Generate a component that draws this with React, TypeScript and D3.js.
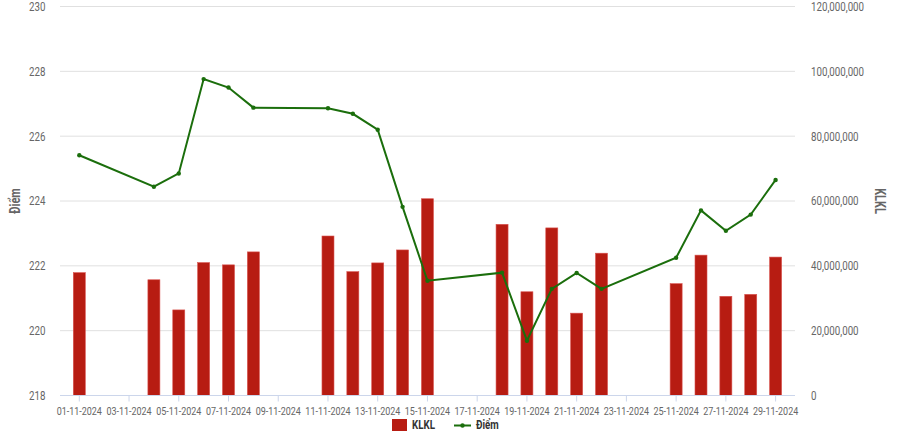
import React from "react";
import * as d3 from "d3";

const dates: string[] = [
  "2024-11-01", "2024-11-04", "2024-11-05", "2024-11-06", "2024-11-07", "2024-11-08",
  "2024-11-11", "2024-11-12", "2024-11-13", "2024-11-14", "2024-11-15",
  "2024-11-18", "2024-11-19", "2024-11-20", "2024-11-21", "2024-11-22",
  "2024-11-25", "2024-11-26", "2024-11-27", "2024-11-28", "2024-11-29",
];
const klkl: number[] = [
  37.9e6, 35.7e6, 26.4e6, 41.0e6, 40.3e6, 44.3e6,
  49.2e6, 38.2e6, 40.9e6, 44.9e6, 60.7e6,
  52.8e6, 32.0e6, 51.7e6, 25.4e6, 43.9e6,
  34.5e6, 43.3e6, 30.6e6, 31.2e6, 42.7e6,
];
const diem: number[] = [
  225.41, 224.44, 224.85, 227.76, 227.5, 226.88,
  226.86, 226.69, 226.2, 223.82, 221.54,
  221.79, 219.69, 221.29, 221.78, 221.29,
  222.25, 223.71, 223.08, 223.58, 224.65,
];
const leftTicks: number[] = [218, 220, 222, 224, 226, 228, 230];
const rightTicks: number[] = [0, 20e6, 40e6, 60e6, 80e6, 100e6, 120e6];

const W = 900;
const H = 438;
const plotL = 60;
const plotR = 795;
const plotT = 6.5;
const plotB = 395.5;
const FONT = "Roboto, 'DejaVu Sans', sans-serif";
const TEXT = "#666666";
const SX = 0.78;

type NTextProps = {
  x: number;
  y: number;
  anchor?: "start" | "middle" | "end";
  size: number;
  weight?: string;
  fill?: string;
  rotate?: number;
  children: React.ReactNode;
};

function NText({ x, y, anchor = "start", size, weight = "normal", fill = TEXT, rotate = 0, children }: NTextProps) {
  return (
    <text
      transform={`translate(${x},${y}) rotate(${rotate}) scale(${SX},1)`}
      textAnchor={anchor}
      dy="0.35em"
      fontSize={size}
      fontWeight={weight}
      fill={fill}
    >
      {children}
    </text>
  );
}

export default function App() {
  const parse = d3.utcParse("%Y-%m-%d");
  const ds = dates.map((d) => parse(d) as Date);
  const day = 86400000;
  const x = d3
    .scaleUtc()
    .domain([new Date(ds[0].getTime() - 0.776 * day), new Date(ds[ds.length - 1].getTime() + 0.78 * day)])
    .range([plotL, plotR]);
  const yL = d3.scaleLinear().domain([218, 230]).range([plotB, plotT]);
  const yR = d3.scaleLinear().domain([0, 120e6]).range([plotB, plotT]);
  const xTicks = d3
    .utcDay.range(ds[0], new Date(ds[ds.length - 1].getTime() + 1))
    .filter((d) => (d.getUTCDate() - 1) % 2 === 0);
  const fmtX = d3.utcFormat("%d-%m-%Y");
  const fmtR = d3.format(",");
  const barW = 12;
  const line = d3
    .line<number>()
    .x((_, i) => x(ds[i]))
    .y((v) => yL(v));

  return (
    <svg width={W} height={H} style={{ position: "absolute", left: 0, top: 0, background: "#fff" }} fontFamily={FONT}>
      {leftTicks.map((t) => (
        <line key={"g" + t} x1={plotL} x2={plotR} y1={yL(t)} y2={yL(t)} stroke="#e0e0e0" strokeWidth={1} />
      ))}
      {leftTicks.map((t) => (
        <NText key={"l" + t} x={45.5} y={yL(t)} anchor="end" size={12.5}>
          {t}
        </NText>
      ))}
      {rightTicks.map((t) => (
        <NText key={"r" + t} x={811} y={yR(t)} anchor="start" size={12.5}>
          {fmtR(t)}
        </NText>
      ))}
      <NText x={15} y={201} anchor="middle" size={14} weight="bold" rotate={-90}>
        Điểm
      </NText>
      <NText x={880} y={201} anchor="middle" size={14} weight="bold" rotate={90}>
        KLKL
      </NText>
      {klkl.map((v, i) => (
        <rect
          key={"b" + i}
          x={x(ds[i]) - barW / 2}
          y={yR(v)}
          width={barW}
          height={plotB - yR(v)}
          fill="#b71c12"
          stroke="#d9534f"
          strokeWidth={0.6}
        />
      ))}
      <line x1={plotL} x2={plotR} y1={plotB} y2={plotB} stroke="#ccd6eb" strokeWidth={1} />
      {xTicks.map((d, i) => (
        <g key={"x" + i}>
          <line x1={x(d)} x2={x(d)} y1={plotB} y2={plotB + 6} stroke="#ccd6eb" strokeWidth={1} />
          <NText x={x(d)} y={410.5} anchor="middle" size={11.5}>
            {fmtX(d)}
          </NText>
        </g>
      ))}
      <path d={line(diem) || ""} fill="none" stroke="#1b6e0c" strokeWidth={2} />
      {diem.map((v, i) => (
        <circle key={"c" + i} cx={x(ds[i])} cy={yL(v)} r={2.2} fill="#1b6e0c" />
      ))}
      <rect x={392} y={419} width={15} height={12} fill="#b71c12" />
      <NText x={412} y={425} size={12.5} weight="bold" fill="#333333">
        KLKL
      </NText>
      <line x1={454} x2={471} y1={425.5} y2={425.5} stroke="#1b6e0c" strokeWidth={2} />
      <circle cx={462.5} cy={425.5} r={2.2} fill="#1b6e0c" />
      <NText x={476} y={425} size={12.5} weight="bold" fill="#333333">
        Điểm
      </NText>
    </svg>
  );
}
